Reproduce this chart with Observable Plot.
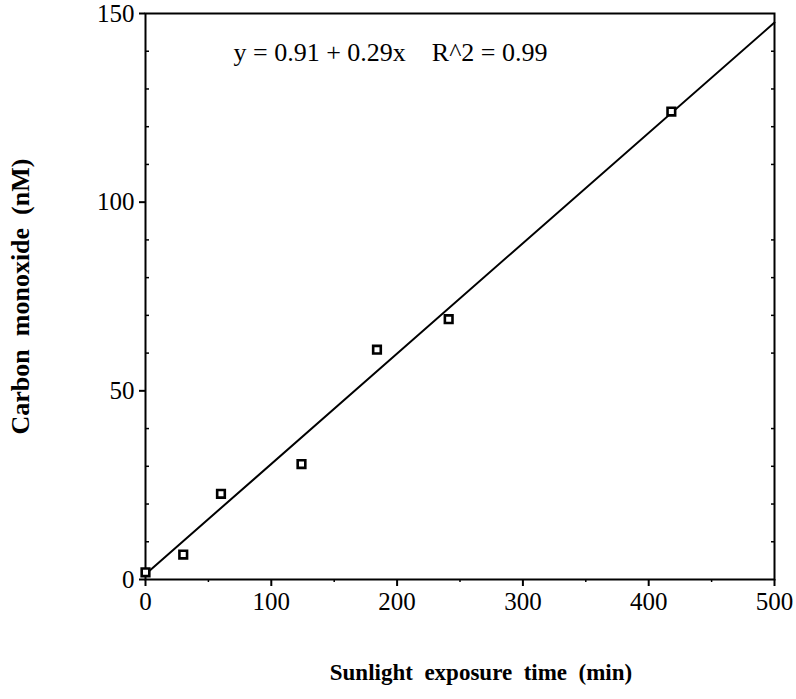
<!DOCTYPE html>
<html><head><meta charset="utf-8">
<script src="https://cdn.jsdelivr.net/npm/d3@7"></script>
<script src="https://cdn.jsdelivr.net/npm/@observablehq/plot@0.6"></script>
<style>body{margin:0;background:#fff}</style>
</head><body>
<div id="chart"></div>
<script>
const exposureMin = [0, 30, 60, 124, 184, 241, 418];
const carbonMonoxide = [1.9, 6.6, 22.7, 30.6, 60.9, 69, 124];
const fitX = [0, 500];
const fitY = [1.4, 147.6];
const equationText = "y = 0.91 + 0.29x    R^2 = 0.99";
const xMajorTicks = [0, 100, 200, 300, 400, 500];
const xMinorTicks = [50, 150, 250, 350, 450];
const yMajorTicks = [0, 50, 100, 150];
const yMinorTicks = [10, 20, 30, 40, 60, 70, 80, 90, 110, 120, 130, 140];

const points = exposureMin.map((x, i) => ({x, y: carbonMonoxide[i]}));
const fit = fitX.map((x, i) => ({x, y: fitY[i]}));
const font = "Liberation Serif, Times New Roman, serif";
const noLabel = () => "";

const chart = Plot.plot({
  width: 796, height: 699,
  marginLeft: 145, marginRight: 22, marginTop: 13, marginBottom: 120,
  style: {fontFamily: font, fontSize: "25px", background: "#fff", color: "#000"},
  x: {domain: [0, 500]},
  y: {domain: [0, 150]},
  marks: [
    Plot.frame({stroke: "#000", strokeWidth: 2}),
    Plot.axisX(xMajorTicks, {tickSize: 7, tickPadding: 6, label: null, fontSize: 25, strokeWidth: 2}),
    Plot.axisX(xMinorTicks, {tickSize: 3, tickFormat: noLabel, label: null, strokeWidth: 1.5}),
    Plot.axisY(yMajorTicks, {tickSize: 6, tickPadding: 5, label: null, fontSize: 25, strokeWidth: 2}),
    Plot.axisY(yMinorTicks, {tickSize: -4, tickFormat: noLabel, label: null, strokeWidth: 1.5}),
    Plot.axisY(yMinorTicks, {anchor: "right", tickSize: -4, tickFormat: noLabel, label: null, strokeWidth: 1.5}),
    Plot.line(fit, {x: "x", y: "y", stroke: "#000", strokeWidth: 2}),
    Plot.dot(points, {x: "x", y: "y", symbol: "square", r: 4.3, stroke: "#000", strokeWidth: 2.6, fill: "#fff"}),
    Plot.text([equationText], {frameAnchor: "top-left", dx: 88, dy: 39, lineAnchor: "middle", fontSize: 26, textAnchor: "start", fontFamily: font, fill: "#000"}),
    Plot.text(["Sunlight  exposure  time  (min)"], {frameAnchor: "bottom", dx: 21, dy: 100, textAnchor: "middle", fontSize: 23, fontWeight: "bold", fontFamily: font, fill: "#000", style: "letter-spacing:0.5px"}),
    Plot.text(["Carbon  monoxide  (nM)"], {frameAnchor: "left", dx: -125, dy: 0, textAnchor: "middle", rotate: -90, fontSize: 26, fontWeight: "bold", fontFamily: font, fill: "#000", style: "letter-spacing:0.7px"})
  ]
});
document.getElementById("chart").append(chart);
</script>
</body></html>
